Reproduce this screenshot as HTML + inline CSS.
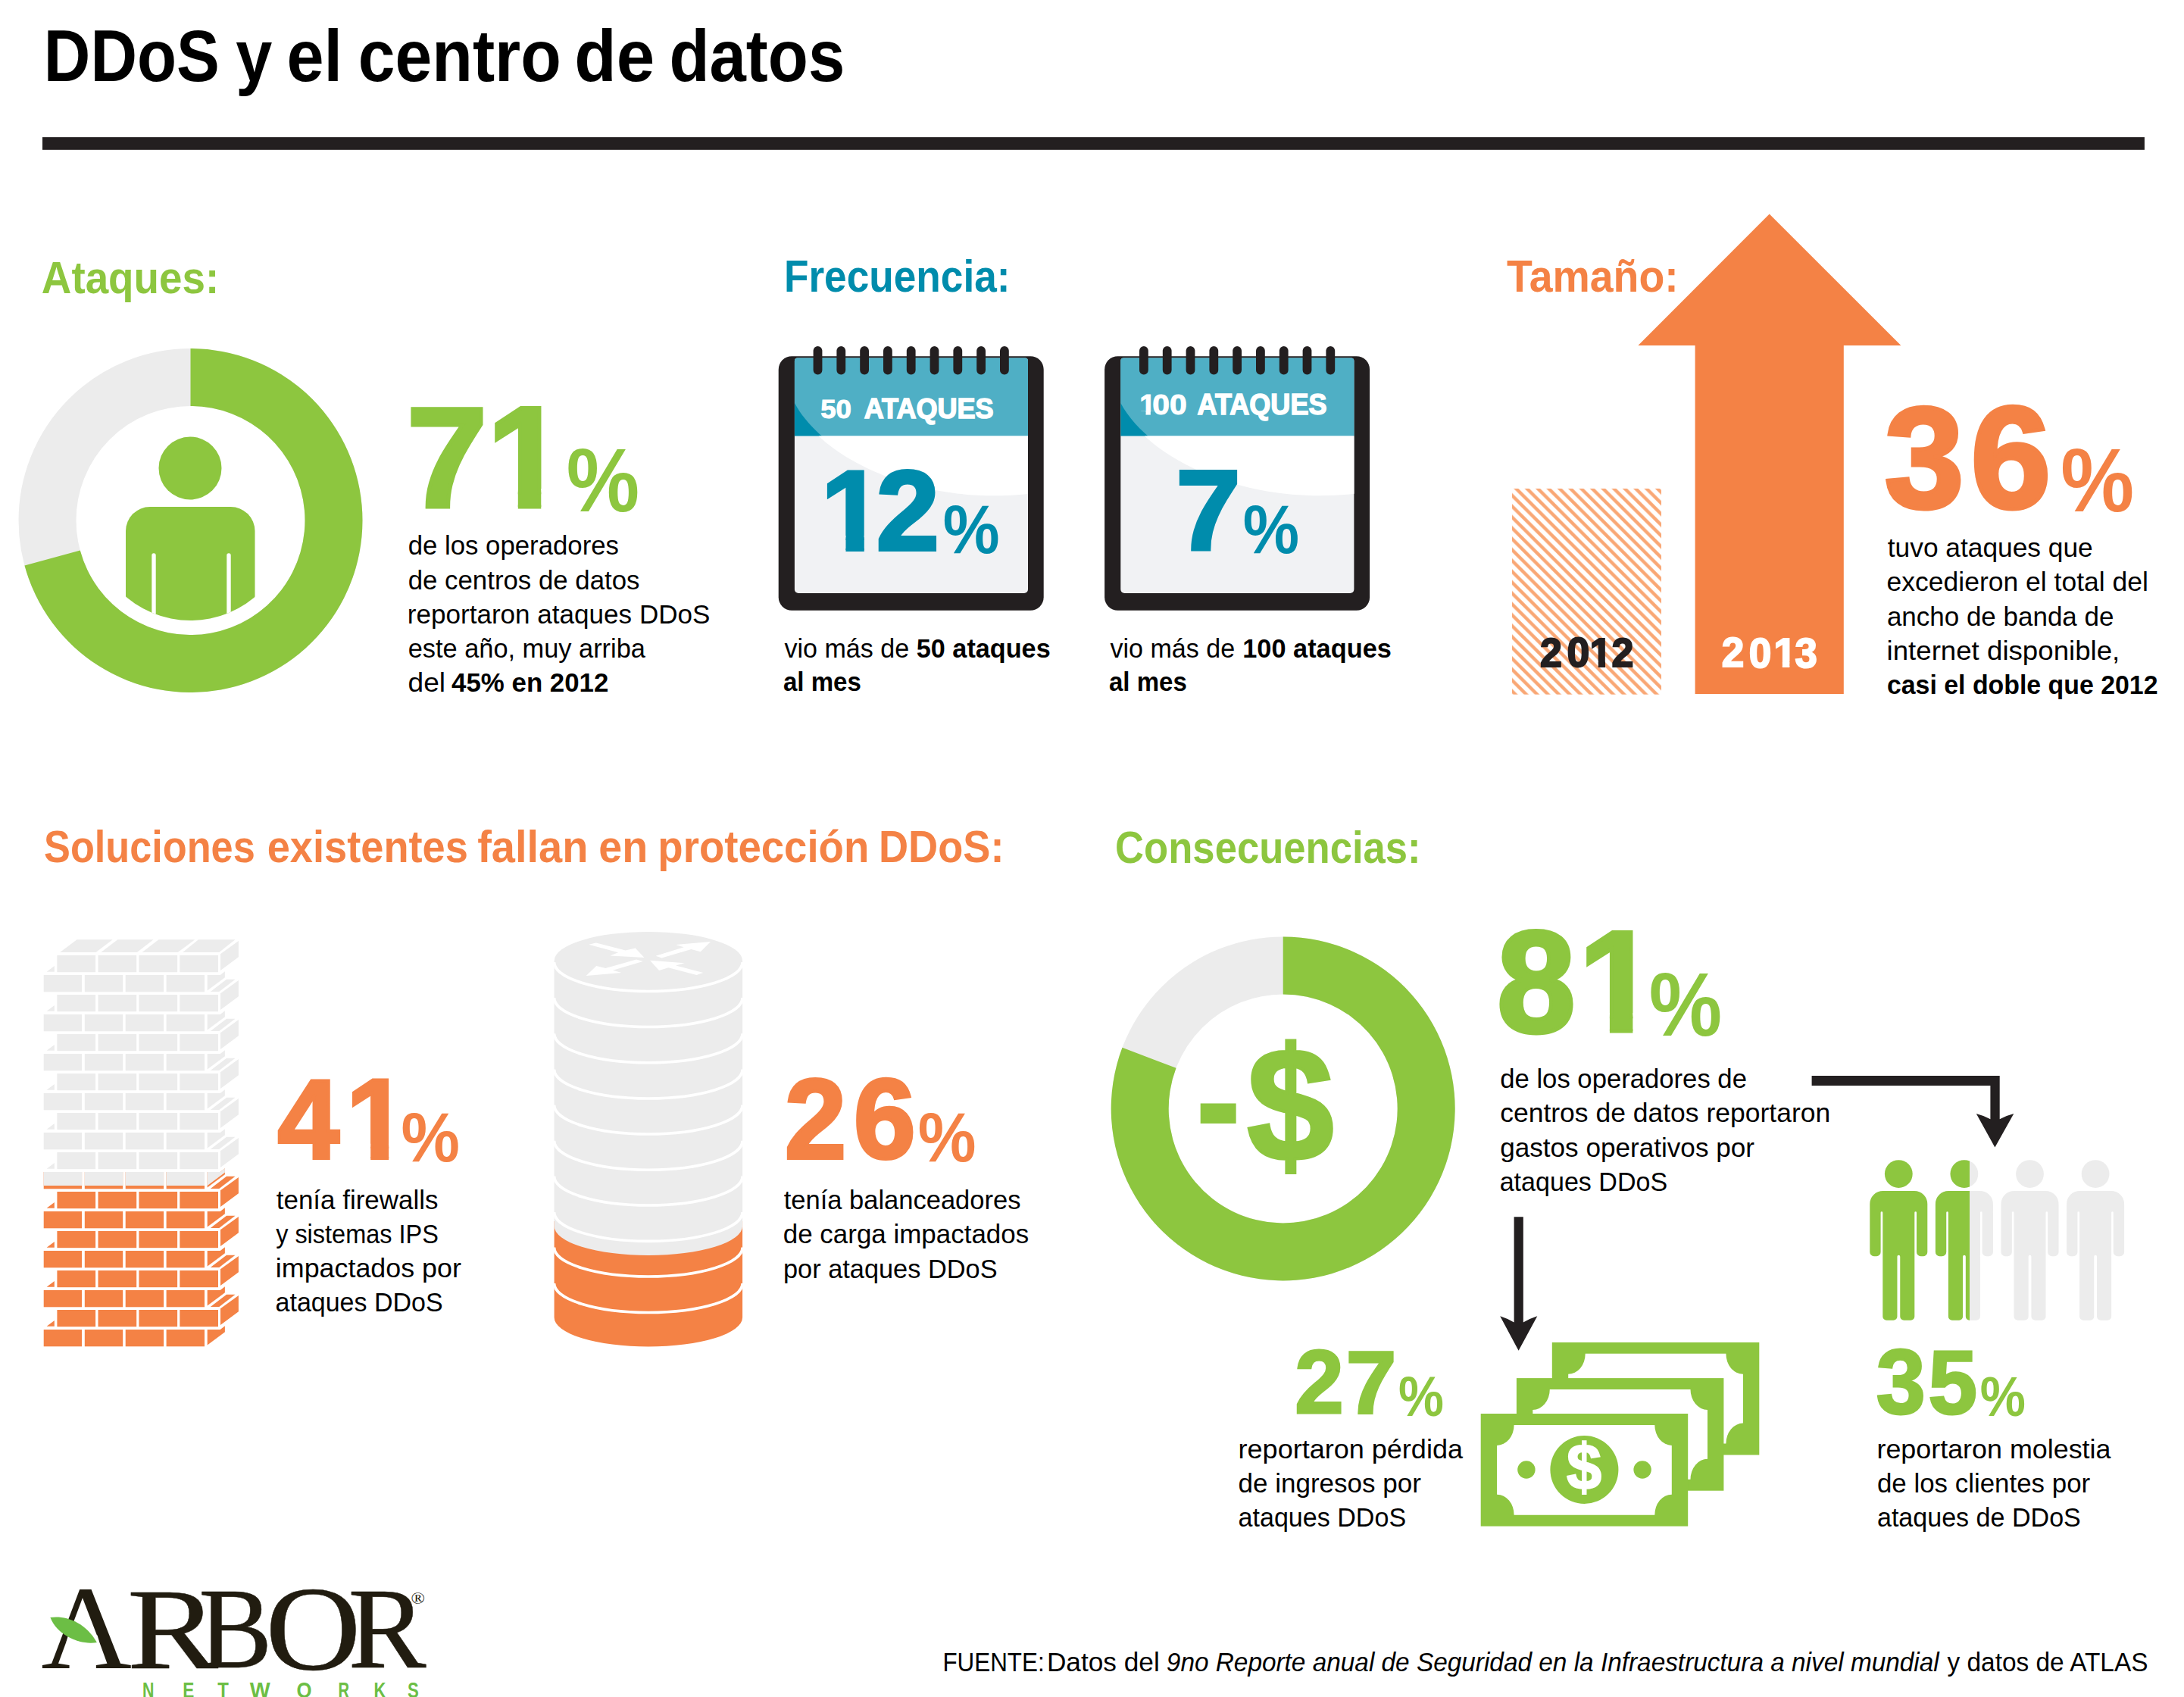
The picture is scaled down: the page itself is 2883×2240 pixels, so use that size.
<!DOCTYPE html>
<html lang="es"><head><meta charset="utf-8"><title>DDoS y el centro de datos</title>
<style>
html,body{margin:0;padding:0;background:#fff}
body{width:2883px;height:2240px;overflow:hidden;font-family:"Liberation Sans",sans-serif}
svg{display:block}
text{white-space:pre}
</style></head><body>
<svg width="2883" height="2240" viewBox="0 0 2883 2240">
<text transform="matrix(0.8878 0 0 1 57.86 107.30)" font-family='"Liberation Sans", sans-serif' font-size="96" font-weight="bold" font-style="normal" fill="#000">DDoS</text>
<text transform="matrix(0.9008 0 0 1 311.14 107.30)" font-family='"Liberation Sans", sans-serif' font-size="96" font-weight="bold" font-style="normal" fill="#000">y</text>
<text transform="matrix(0.9195 0 0 1 378.47 107.30)" font-family='"Liberation Sans", sans-serif' font-size="96" font-weight="bold" font-style="normal" fill="#000">el</text>
<text transform="matrix(0.9135 0 0 1 472.79 107.30)" font-family='"Liberation Sans", sans-serif' font-size="96" font-weight="bold" font-style="normal" fill="#000">centro</text>
<text transform="matrix(0.9451 0 0 1 758.27 107.30)" font-family='"Liberation Sans", sans-serif' font-size="96" font-weight="bold" font-style="normal" fill="#000">de</text>
<text transform="matrix(0.9055 0 0 1 883.42 107.30)" font-family='"Liberation Sans", sans-serif' font-size="96" font-weight="bold" font-style="normal" fill="#000">datos</text>
<rect x="56" y="181.1" width="2774.9" height="16.7" fill="#231f20"/>
<text transform="matrix(0.9348 0 0 1 54.83 386.60)" font-family='"Liberation Sans", sans-serif' font-size="58.6" font-weight="bold" font-style="normal" fill="#8dc63f">Ataques:</text>
<text transform="matrix(0.9077 0 0 1 1034.94 384.70)" font-family='"Liberation Sans", sans-serif' font-size="58.6" font-weight="bold" font-style="normal" fill="#008cac">Frecuencia:</text>
<text transform="matrix(0.9460 0 0 1 1988.95 384.50)" font-family='"Liberation Sans", sans-serif' font-size="58.6" font-weight="bold" font-style="normal" fill="#f48245">Tamaño:</text>
<text transform="matrix(0.8947 0 0 1 58.03 1138.40)" font-family='"Liberation Sans", sans-serif' font-size="58.4" font-weight="bold" font-style="normal" fill="#f48245">Soluciones</text>
<text transform="matrix(0.9284 0 0 1 352.73 1138.40)" font-family='"Liberation Sans", sans-serif' font-size="58.4" font-weight="bold" font-style="normal" fill="#f48245">existentes</text>
<text transform="matrix(0.9585 0 0 1 630.16 1138.40)" font-family='"Liberation Sans", sans-serif' font-size="58.4" font-weight="bold" font-style="normal" fill="#f48245">fallan</text>
<text transform="matrix(0.9534 0 0 1 790.17 1138.40)" font-family='"Liberation Sans", sans-serif' font-size="58.4" font-weight="bold" font-style="normal" fill="#f48245">en</text>
<text transform="matrix(0.9343 0 0 1 868.35 1138.40)" font-family='"Liberation Sans", sans-serif' font-size="58.4" font-weight="bold" font-style="normal" fill="#f48245">protección</text>
<text transform="matrix(0.9279 0 0 1 1159.98 1138.40)" font-family='"Liberation Sans", sans-serif' font-size="58.4" font-weight="bold" font-style="normal" fill="#f48245">DDoS:</text>
<text transform="matrix(0.9012 0 0 1 1472.09 1138.50)" font-family='"Liberation Sans", sans-serif' font-size="58.4" font-weight="bold" font-style="normal" fill="#8dc63f">Consecuencias:</text>
<circle cx="251.5" cy="687" r="189" fill="none" stroke="#ececec" stroke-width="76"/>
<path d="M251.50,460.00 A227,227 0 1 1 32.44,746.52 L105.78,726.59 A151,151 0 1 0 251.50,536.00 Z" fill="#8dc63f"/>
<clipPath id="c1"><circle cx="251.5" cy="687" r="132"/></clipPath>
<circle cx="251" cy="618" r="41.5" fill="#8dc63f"/>
<g clip-path="url(#c1)"><path d="M166,830 V701 A32,32 0 0 1 198,669 H304.5 A32,32 0 0 1 336.5,701 V830 Z" fill="#8dc63f"/><path d="M200.3,830 V733 A2.7,2.7 0 0 1 205.7,733 V830 Z M299.3,830 V733 A2.7,2.7 0 0 1 304.7,733 V830 Z" fill="#fff"/></g>
<g><text transform="matrix(1.9158 0 0 1.8841 536.64 669.30)" font-family='"Liberation Sans", sans-serif' font-size="100" font-weight="bold" font-style="normal" fill="#8dc63f" stroke="#8dc63f" stroke-width="2.63" stroke-linejoin="miter">7</text><clipPath id="k1"><polygon points="-50,-130 150,-130 150,-12.73 38.39,-12.73 38.39,30 22.01,30 22.01,-12.73 -50,-12.73"/></clipPath><text clip-path="url(#k1)" transform="matrix(1.8597 0 0 1.8895 642.88 669.30)" font-family='"Liberation Sans", sans-serif' font-size="100" font-weight="bold" fill="#8dc63f" stroke="#8dc63f" stroke-width="2.67" stroke-linejoin="miter">1</text><text transform="matrix(1.0845 0 0 1.1858 747.69 675.31)" font-family='"Liberation Sans", sans-serif' font-size="100" font-weight="bold" font-style="normal" fill="#8dc63f">%</text></g>
<text transform="matrix(1.0048 0 0 1 538.71 732.30)" font-family='"Liberation Sans", sans-serif' font-size="34.6" font-weight="normal" font-style="normal" fill="#000">de los operadores</text>
<text transform="matrix(1.0064 0 0 1 538.71 777.60)" font-family='"Liberation Sans", sans-serif' font-size="34.6" font-weight="normal" font-style="normal" fill="#000">de centros de datos</text>
<text transform="matrix(1.0139 0 0 1 537.82 822.60)" font-family='"Liberation Sans", sans-serif' font-size="34.6" font-weight="normal" font-style="normal" fill="#000">reportaron ataques DDoS</text>
<text transform="matrix(0.9933 0 0 1 538.73 867.90)" font-family='"Liberation Sans", sans-serif' font-size="34.6" font-weight="normal" font-style="normal" fill="#000">este año, muy arriba</text>
<text transform="matrix(1.0711 0 0 1 538.62 912.60)" font-family='"Liberation Sans", sans-serif' font-size="34.6" font-weight="normal" font-style="normal" fill="#000">del</text>
<text transform="matrix(1.0075 0 0 1 596.08 912.60)" font-family='"Liberation Sans", sans-serif' font-size="34.6" font-weight="bold" font-style="normal" fill="#000">45% en 2012</text>
<rect x="1027.7" y="470.2" width="350" height="335.6" rx="17.5" fill="#231f20"/>
<clipPath id="pg0"><path d="M1048.9,476.5 a4,4 0 0 1 4,-4 H1353 a4,4 0 0 1 4,4 V778 a5,5 0 0 1 -5,5 H1053.9 a5,5 0 0 1 -5,-5 Z"/></clipPath>
<g clip-path="url(#pg0)">
<rect x="1040" y="470" width="330" height="320" fill="#f1f2f4"/>
<rect x="1040" y="470" width="330" height="105.5" fill="#008cac"/>
<path d="M1048.9,531.9 C1087.8,605.0 1222.1,666.3 1358.9,651.7 V463.6 H1048.9 Z" fill="#fff" fill-opacity="0.31"/>
<path d="M1080.7,575.5 C1120.8,614.4 1222.1,666.3 1358.9,651.7 V575.5 Z" fill="#fff"/>
</g>
<rect x="1073.6" y="456.9" width="11.8" height="37.6" rx="5.9" fill="#231f20"/>
<rect x="1104.4" y="456.9" width="11.8" height="37.6" rx="5.9" fill="#231f20"/>
<rect x="1135.2" y="456.9" width="11.8" height="37.6" rx="5.9" fill="#231f20"/>
<rect x="1166.0" y="456.9" width="11.8" height="37.6" rx="5.9" fill="#231f20"/>
<rect x="1196.8" y="456.9" width="11.8" height="37.6" rx="5.9" fill="#231f20"/>
<rect x="1227.6" y="456.9" width="11.8" height="37.6" rx="5.9" fill="#231f20"/>
<rect x="1258.4" y="456.9" width="11.8" height="37.6" rx="5.9" fill="#231f20"/>
<rect x="1289.2" y="456.9" width="11.8" height="37.6" rx="5.9" fill="#231f20"/>
<rect x="1320.0" y="456.9" width="11.8" height="37.6" rx="5.9" fill="#231f20"/>
<text transform="matrix(0.3673 0 0 0.3443 1083.20 551.80)" font-family='"Liberation Sans", sans-serif' font-size="100" font-weight="bold" font-style="normal" fill="#fff" stroke="#fff" stroke-width="2.81" stroke-linejoin="miter">50</text>
<text transform="matrix(0.3609 0 0 0.3771 1140.65 552.45)" font-family='"Liberation Sans", sans-serif' font-size="100" font-weight="bold" font-style="normal" fill="#fff" stroke="#fff" stroke-width="4.06" stroke-linejoin="miter">ATAQUES</text>
<g><clipPath id="k2"><polygon points="-50,-130 150,-130 150,-12.74 38.40,-12.74 38.40,30 22.00,30 22.00,-12.74 -50,-12.74"/></clipPath><text clip-path="url(#k2)" transform="matrix(1.4825 0 0 1.4971 1083.86 726.00)" font-family='"Liberation Sans", sans-serif' font-size="100" font-weight="bold" fill="#008cac" stroke="#008cac" stroke-width="2.68" stroke-linejoin="miter">1</text><text transform="matrix(1.5021 0 0 1.5000 1156.44 726.00)" font-family='"Liberation Sans", sans-serif' font-size="100" font-weight="bold" font-style="normal" fill="#008cac" stroke="#008cac" stroke-width="2.66" stroke-linejoin="miter">2</text><text transform="matrix(0.8417 0 0 0.9007 1244.80 730.10)" font-family='"Liberation Sans", sans-serif' font-size="100" font-weight="bold" font-style="normal" fill="#008cac">%</text></g>
<rect x="1458.1" y="470.2" width="350" height="335.6" rx="17.5" fill="#231f20"/>
<clipPath id="pg430"><path d="M1479.3000000000002,476.5 a4,4 0 0 1 4,-4 H1783.4 a4,4 0 0 1 4,4 V778 a5,5 0 0 1 -5,5 H1484.3000000000002 a5,5 0 0 1 -5,-5 Z"/></clipPath>
<g clip-path="url(#pg430)">
<rect x="1470.4" y="470" width="330" height="320" fill="#f1f2f4"/>
<rect x="1470.4" y="470" width="330" height="105.5" fill="#008cac"/>
<path d="M1479.3,531.9 C1518.2,605.0 1652.5,666.3 1789.3,651.7 V463.6 H1479.3 Z" fill="#fff" fill-opacity="0.31"/>
<path d="M1511.1,575.5 C1551.2,614.4 1652.5,666.3 1789.3,651.7 V575.5 Z" fill="#fff"/>
</g>
<rect x="1504.0" y="456.9" width="11.8" height="37.6" rx="5.9" fill="#231f20"/>
<rect x="1534.8" y="456.9" width="11.8" height="37.6" rx="5.9" fill="#231f20"/>
<rect x="1565.6" y="456.9" width="11.8" height="37.6" rx="5.9" fill="#231f20"/>
<rect x="1596.4" y="456.9" width="11.8" height="37.6" rx="5.9" fill="#231f20"/>
<rect x="1627.2" y="456.9" width="11.8" height="37.6" rx="5.9" fill="#231f20"/>
<rect x="1658.0" y="456.9" width="11.8" height="37.6" rx="5.9" fill="#231f20"/>
<rect x="1688.8" y="456.9" width="11.8" height="37.6" rx="5.9" fill="#231f20"/>
<rect x="1719.6" y="456.9" width="11.8" height="37.6" rx="5.9" fill="#231f20"/>
<rect x="1750.4" y="456.9" width="11.8" height="37.6" rx="5.9" fill="#231f20"/>
<g><clipPath id="k3"><polygon points="-50,-130 150,-130 150,-12.75 38.41,-12.75 38.41,30 21.99,30 21.99,-12.75 -50,-12.75"/></clipPath><text clip-path="url(#k3)" transform="matrix(0.3805 0 0 0.3605 1504.20 547.30)" font-family='"Liberation Sans", sans-serif' font-size="100" font-weight="bold" fill="#fff" stroke="#fff" stroke-width="2.70" stroke-linejoin="miter">1</text><text transform="matrix(0.4087 0 0 0.3606 1521.27 547.34)" font-family='"Liberation Sans", sans-serif' font-size="100" font-weight="bold" font-style="normal" fill="#fff" stroke="#fff" stroke-width="2.60" stroke-linejoin="miter">00</text></g>
<text transform="matrix(0.3607 0 0 0.3886 1580.55 547.05)" font-family='"Liberation Sans", sans-serif' font-size="100" font-weight="bold" font-style="normal" fill="#fff" stroke="#fff" stroke-width="4.00" stroke-linejoin="miter">ATAQUES</text>
<g><text transform="matrix(1.5389 0 0 1.4942 1552.14 725.60)" font-family='"Liberation Sans", sans-serif' font-size="100" font-weight="bold" font-style="normal" fill="#008cac" stroke="#008cac" stroke-width="2.64" stroke-linejoin="miter">7</text><text transform="matrix(0.8357 0 0 0.9007 1640.71 730.10)" font-family='"Liberation Sans", sans-serif' font-size="100" font-weight="bold" font-style="normal" fill="#008cac">%</text></g>
<text transform="matrix(0.9845 0 0 1 1035.43 867.50)" font-family='"Liberation Sans", sans-serif' font-size="34.6" font-weight="normal" font-style="normal" fill="#000">vio más de</text>
<text transform="matrix(0.9895 0 0 1 1209.77 867.50)" font-family='"Liberation Sans", sans-serif' font-size="34.6" font-weight="bold" font-style="normal" fill="#000">50 ataques</text>
<text transform="matrix(0.9545 0 0 1 1034.01 912.10)" font-family='"Liberation Sans", sans-serif' font-size="34.6" font-weight="bold" font-style="normal" fill="#000">al mes</text>
<text transform="matrix(0.9845 0 0 1 1465.43 867.50)" font-family='"Liberation Sans", sans-serif' font-size="34.6" font-weight="normal" font-style="normal" fill="#000">vio más de</text>
<text transform="matrix(0.9927 0 0 1 1640.24 867.50)" font-family='"Liberation Sans", sans-serif' font-size="34.6" font-weight="bold" font-style="normal" fill="#000">100 ataques</text>
<text transform="matrix(0.9545 0 0 1 1464.01 912.10)" font-family='"Liberation Sans", sans-serif' font-size="34.6" font-weight="bold" font-style="normal" fill="#000">al mes</text>
<pattern id="hatch" width="14.35" height="14.35" patternUnits="userSpaceOnUse" patternTransform="translate(2001.35 644.9)"><path d="M-3.5875,-3.5875 L17.9375,17.9375 M-3.5875,10.7625 L3.5875,17.9375 M10.7625,-3.5875 L17.9375,3.5875" stroke="#f9a775" stroke-width="4.4"/></pattern>
<rect x="1996" y="644.9" width="197" height="271.8" fill="url(#hatch)"/>
<polygon points="2335.7,282.4 2509.4,456.0 2433.8,456.0 2433.8,916.0 2237.6,916.0 2237.6,456.0 2162.4,456.0" fill="#f48245"/>
<g><text transform="matrix(0.5208 0 0 0.5429 2033.08 879.90)" font-family='"Liberation Sans", sans-serif' font-size="100" font-weight="bold" font-style="normal" fill="#231f20" stroke="#231f20" stroke-width="3.76" stroke-linejoin="miter">2</text><text transform="matrix(0.5368 0 0 0.5479 2068.45 880.25)" font-family='"Liberation Sans", sans-serif' font-size="100" font-weight="bold" font-style="normal" fill="#231f20" stroke="#231f20" stroke-width="3.69" stroke-linejoin="miter">0</text><clipPath id="k4"><polygon points="-50,-130 150,-130 150,-13.29 38.95,-13.29 38.95,30 21.45,30 21.45,-13.29 -50,-13.29"/></clipPath><text clip-path="url(#k4)" transform="matrix(0.5228 0 0 0.5363 2098.62 879.90)" font-family='"Liberation Sans", sans-serif' font-size="100" font-weight="bold" fill="#231f20" stroke="#231f20" stroke-width="3.78" stroke-linejoin="miter">1</text><text transform="matrix(0.5208 0 0 0.5429 2127.38 879.90)" font-family='"Liberation Sans", sans-serif' font-size="100" font-weight="bold" font-style="normal" fill="#231f20" stroke="#231f20" stroke-width="3.76" stroke-linejoin="miter">2</text></g>
<g><text transform="matrix(0.5312 0 0 0.5471 2272.84 880.20)" font-family='"Liberation Sans", sans-serif' font-size="100" font-weight="bold" font-style="normal" fill="#fff" stroke="#fff" stroke-width="3.71" stroke-linejoin="miter">2</text><text transform="matrix(0.5326 0 0 0.5535 2308.67 880.65)" font-family='"Liberation Sans", sans-serif' font-size="100" font-weight="bold" font-style="normal" fill="#fff" stroke="#fff" stroke-width="3.68" stroke-linejoin="miter">0</text><clipPath id="k5"><polygon points="-50,-130 150,-130 150,-13.25 38.91,-13.25 38.91,30 21.49,30 21.49,-13.25 -50,-13.25"/></clipPath><text clip-path="url(#k5)" transform="matrix(0.5427 0 0 0.5407 2341.19 880.20)" font-family='"Liberation Sans", sans-serif' font-size="100" font-weight="bold" fill="#fff" stroke="#fff" stroke-width="3.69" stroke-linejoin="miter">1</text><text transform="matrix(0.5273 0 0 0.5549 2369.58 880.75)" font-family='"Liberation Sans", sans-serif' font-size="100" font-weight="bold" font-style="normal" fill="#fff" stroke="#fff" stroke-width="3.70" stroke-linejoin="miter">3</text></g>
<g><text transform="matrix(1.8909 0 0 1.9028 2487.57 669.60)" font-family='"Liberation Sans", sans-serif' font-size="100" font-weight="bold" font-style="normal" fill="#f48245" stroke="#f48245" stroke-width="2.64" stroke-linejoin="miter">3</text><text transform="matrix(1.9113 0 0 1.9028 2601.31 669.60)" font-family='"Liberation Sans", sans-serif' font-size="100" font-weight="bold" font-style="normal" fill="#f48245" stroke="#f48245" stroke-width="2.62" stroke-linejoin="miter">6</text><text transform="matrix(1.0893 0 0 1.1816 2720.28 675.32)" font-family='"Liberation Sans", sans-serif' font-size="100" font-weight="bold" font-style="normal" fill="#f48245">%</text></g>
<text transform="matrix(1.0212 0 0 1 2491.77 734.80)" font-family='"Liberation Sans", sans-serif' font-size="34.6" font-weight="normal" font-style="normal" fill="#000">tuvo ataques que</text>
<text transform="matrix(1.0263 0 0 1 2490.58 780.20)" font-family='"Liberation Sans", sans-serif' font-size="34.6" font-weight="normal" font-style="normal" fill="#000">excedieron el total del</text>
<text transform="matrix(1.0112 0 0 1 2490.90 825.50)" font-family='"Liberation Sans", sans-serif' font-size="34.6" font-weight="normal" font-style="normal" fill="#000">ancho de banda de</text>
<text transform="matrix(1.0600 0 0 1 2490.52 870.70)" font-family='"Liberation Sans", sans-serif' font-size="34.6" font-weight="normal" font-style="normal" fill="#000">internet disponible,</text>
<text transform="matrix(0.9790 0 0 1 2490.95 916.10)" font-family='"Liberation Sans", sans-serif' font-size="34.6" font-weight="bold" font-style="normal" fill="#000">casi el doble que 2012</text>
<g fill="#f48245"><rect x="57.7" y="1547.0" width="50.4" height="22.3"/><rect x="111.8" y="1547.0" width="50.4" height="22.3"/><rect x="165.7" y="1547.0" width="50.4" height="22.3"/><rect x="219.6" y="1547.0" width="50.4" height="22.3"/><polygon points="273.7,1547.0 290.7,1547.0 296.9,1542.2 296.9,1550.2 273.7,1567.5"/><rect x="75.4" y="1573.0" width="50.7" height="22.2"/><rect x="129.5" y="1573.0" width="50.7" height="22.2"/><rect x="183.4" y="1573.0" width="50.7" height="22.2"/><rect x="237.3" y="1573.0" width="50.7" height="22.2"/><rect x="57.7" y="1599.0" width="50.4" height="22.3"/><rect x="111.8" y="1599.0" width="50.4" height="22.3"/><rect x="165.7" y="1599.0" width="50.4" height="22.3"/><rect x="219.6" y="1599.0" width="50.4" height="22.3"/><polygon points="273.7,1599.0 290.7,1599.0 296.9,1594.2 296.9,1602.2 273.7,1619.5"/><polygon points="291.0,1571.2 314.9,1554.1 314.9,1575.3 291.0,1593.0"/><polygon points="61.6,1594.7 71.8,1587.1 71.8,1594.7"/><polygon points="277.8,1568.9 289.3,1568.9 310.5,1552.8 299.0,1552.8"/><rect x="75.4" y="1625.0" width="50.7" height="22.2"/><rect x="129.5" y="1625.0" width="50.7" height="22.2"/><rect x="183.4" y="1625.0" width="50.7" height="22.2"/><rect x="237.3" y="1625.0" width="50.7" height="22.2"/><rect x="57.7" y="1651.0" width="50.4" height="22.3"/><rect x="111.8" y="1651.0" width="50.4" height="22.3"/><rect x="165.7" y="1651.0" width="50.4" height="22.3"/><rect x="219.6" y="1651.0" width="50.4" height="22.3"/><polygon points="273.7,1651.0 290.7,1651.0 296.9,1646.2 296.9,1654.2 273.7,1671.5"/><polygon points="291.0,1623.2 314.9,1606.1 314.9,1627.3 291.0,1645.0"/><polygon points="61.6,1646.7 71.8,1639.1 71.8,1646.7"/><polygon points="277.8,1620.9 289.3,1620.9 310.5,1604.8 299.0,1604.8"/><rect x="75.4" y="1677.0" width="50.7" height="22.2"/><rect x="129.5" y="1677.0" width="50.7" height="22.2"/><rect x="183.4" y="1677.0" width="50.7" height="22.2"/><rect x="237.3" y="1677.0" width="50.7" height="22.2"/><rect x="57.7" y="1703.0" width="50.4" height="22.3"/><rect x="111.8" y="1703.0" width="50.4" height="22.3"/><rect x="165.7" y="1703.0" width="50.4" height="22.3"/><rect x="219.6" y="1703.0" width="50.4" height="22.3"/><polygon points="273.7,1703.0 290.7,1703.0 296.9,1698.2 296.9,1706.2 273.7,1723.5"/><polygon points="291.0,1675.2 314.9,1658.1 314.9,1679.3 291.0,1697.0"/><polygon points="61.6,1698.7 71.8,1691.1 71.8,1698.7"/><polygon points="277.8,1672.9 289.3,1672.9 310.5,1656.8 299.0,1656.8"/><rect x="75.4" y="1729.0" width="50.7" height="22.2"/><rect x="129.5" y="1729.0" width="50.7" height="22.2"/><rect x="183.4" y="1729.0" width="50.7" height="22.2"/><rect x="237.3" y="1729.0" width="50.7" height="22.2"/><rect x="57.7" y="1755.0" width="50.4" height="22.3"/><rect x="111.8" y="1755.0" width="50.4" height="22.3"/><rect x="165.7" y="1755.0" width="50.4" height="22.3"/><rect x="219.6" y="1755.0" width="50.4" height="22.3"/><polygon points="273.7,1755.0 290.7,1755.0 296.9,1750.2 296.9,1758.2 273.7,1775.5"/><polygon points="291.0,1727.2 314.9,1710.1 314.9,1731.3 291.0,1749.0"/><polygon points="61.6,1750.7 71.8,1743.1 71.8,1750.7"/><polygon points="277.8,1724.9 289.3,1724.9 310.5,1708.8 299.0,1708.8"/></g>
<clipPath id="wc"><polygon points="0,1200 400,1200 400,1470.5 273.7,1565 0,1565"/></clipPath>
<g fill="#ececec" clip-path="url(#wc)"><rect x="75.4" y="1261.0" width="50.7" height="22.2"/><rect x="129.5" y="1261.0" width="50.7" height="22.2"/><rect x="183.4" y="1261.0" width="50.7" height="22.2"/><rect x="237.3" y="1261.0" width="50.7" height="22.2"/><rect x="57.7" y="1287.0" width="50.4" height="22.3"/><rect x="111.8" y="1287.0" width="50.4" height="22.3"/><rect x="165.7" y="1287.0" width="50.4" height="22.3"/><rect x="219.6" y="1287.0" width="50.4" height="22.3"/><polygon points="273.7,1287.0 290.7,1287.0 296.9,1282.2 296.9,1290.2 273.7,1307.5"/><polygon points="291.0,1259.2 314.9,1242.1 314.9,1263.3 291.0,1281.0"/><polygon points="61.6,1282.7 71.8,1275.1 71.8,1282.7"/><polygon points="79.2,1257.1 126.6,1257.1 148.7,1240.3 101.5,1240.3"/><polygon points="133.3,1257.1 180.9,1257.1 202.6,1240.3 155.3,1240.3"/><polygon points="187.6,1257.1 234.8,1257.1 257.1,1240.3 209.4,1240.3"/><polygon points="241.2,1257.1 289.3,1257.1 310.5,1240.3 261.9,1240.3"/><rect x="75.4" y="1313.0" width="50.7" height="22.2"/><rect x="129.5" y="1313.0" width="50.7" height="22.2"/><rect x="183.4" y="1313.0" width="50.7" height="22.2"/><rect x="237.3" y="1313.0" width="50.7" height="22.2"/><rect x="57.7" y="1339.0" width="50.4" height="22.3"/><rect x="111.8" y="1339.0" width="50.4" height="22.3"/><rect x="165.7" y="1339.0" width="50.4" height="22.3"/><rect x="219.6" y="1339.0" width="50.4" height="22.3"/><polygon points="273.7,1339.0 290.7,1339.0 296.9,1334.2 296.9,1342.2 273.7,1359.5"/><polygon points="291.0,1311.2 314.9,1294.1 314.9,1315.3 291.0,1333.0"/><polygon points="61.6,1334.7 71.8,1327.1 71.8,1334.7"/><polygon points="277.8,1308.9 289.3,1308.9 310.5,1292.8 299.0,1292.8"/><rect x="75.4" y="1365.0" width="50.7" height="22.2"/><rect x="129.5" y="1365.0" width="50.7" height="22.2"/><rect x="183.4" y="1365.0" width="50.7" height="22.2"/><rect x="237.3" y="1365.0" width="50.7" height="22.2"/><rect x="57.7" y="1391.0" width="50.4" height="22.3"/><rect x="111.8" y="1391.0" width="50.4" height="22.3"/><rect x="165.7" y="1391.0" width="50.4" height="22.3"/><rect x="219.6" y="1391.0" width="50.4" height="22.3"/><polygon points="273.7,1391.0 290.7,1391.0 296.9,1386.2 296.9,1394.2 273.7,1411.5"/><polygon points="291.0,1363.2 314.9,1346.1 314.9,1367.3 291.0,1385.0"/><polygon points="61.6,1386.7 71.8,1379.1 71.8,1386.7"/><polygon points="277.8,1360.9 289.3,1360.9 310.5,1344.8 299.0,1344.8"/><rect x="75.4" y="1417.0" width="50.7" height="22.2"/><rect x="129.5" y="1417.0" width="50.7" height="22.2"/><rect x="183.4" y="1417.0" width="50.7" height="22.2"/><rect x="237.3" y="1417.0" width="50.7" height="22.2"/><rect x="57.7" y="1443.0" width="50.4" height="22.3"/><rect x="111.8" y="1443.0" width="50.4" height="22.3"/><rect x="165.7" y="1443.0" width="50.4" height="22.3"/><rect x="219.6" y="1443.0" width="50.4" height="22.3"/><polygon points="273.7,1443.0 290.7,1443.0 296.9,1438.2 296.9,1446.2 273.7,1463.5"/><polygon points="291.0,1415.2 314.9,1398.1 314.9,1419.3 291.0,1437.0"/><polygon points="61.6,1438.7 71.8,1431.1 71.8,1438.7"/><polygon points="277.8,1412.9 289.3,1412.9 310.5,1396.8 299.0,1396.8"/><rect x="75.4" y="1469.0" width="50.7" height="22.2"/><rect x="129.5" y="1469.0" width="50.7" height="22.2"/><rect x="183.4" y="1469.0" width="50.7" height="22.2"/><rect x="237.3" y="1469.0" width="50.7" height="22.2"/><rect x="57.7" y="1495.0" width="50.4" height="22.3"/><rect x="111.8" y="1495.0" width="50.4" height="22.3"/><rect x="165.7" y="1495.0" width="50.4" height="22.3"/><rect x="219.6" y="1495.0" width="50.4" height="22.3"/><polygon points="273.7,1495.0 290.7,1495.0 296.9,1490.2 296.9,1498.2 273.7,1515.5"/><polygon points="291.0,1467.2 314.9,1450.1 314.9,1471.3 291.0,1489.0"/><polygon points="61.6,1490.7 71.8,1483.1 71.8,1490.7"/><polygon points="277.8,1464.9 289.3,1464.9 310.5,1448.8 299.0,1448.8"/><rect x="75.4" y="1521.0" width="50.7" height="22.2"/><rect x="129.5" y="1521.0" width="50.7" height="22.2"/><rect x="183.4" y="1521.0" width="50.7" height="22.2"/><rect x="237.3" y="1521.0" width="50.7" height="22.2"/><rect x="57.7" y="1547.0" width="50.4" height="22.3"/><rect x="111.8" y="1547.0" width="50.4" height="22.3"/><rect x="165.7" y="1547.0" width="50.4" height="22.3"/><rect x="219.6" y="1547.0" width="50.4" height="22.3"/><polygon points="273.7,1547.0 290.7,1547.0 296.9,1542.2 296.9,1550.2 273.7,1567.5"/><polygon points="291.0,1519.2 314.9,1502.1 314.9,1523.3 291.0,1541.0"/><polygon points="61.6,1542.7 71.8,1535.1 71.8,1542.7"/><polygon points="277.8,1516.9 289.3,1516.9 310.5,1500.8 299.0,1500.8"/></g>
<g><text transform="matrix(1.4654 0 0 1.4899 366.60 1528.80)" font-family='"Liberation Sans", sans-serif' font-size="100" font-weight="bold" font-style="normal" fill="#f48245" stroke="#f48245" stroke-width="2.71" stroke-linejoin="miter">4</text><clipPath id="k6"><polygon points="-50,-130 150,-130 150,-12.75 38.41,-12.75 38.41,30 21.99,30 21.99,-12.75 -50,-12.75"/></clipPath><text clip-path="url(#k6)" transform="matrix(1.4593 0 0 1.4942 457.12 1528.80)" font-family='"Liberation Sans", sans-serif' font-size="100" font-weight="bold" fill="#f48245" stroke="#f48245" stroke-width="2.71" stroke-linejoin="miter">1</text><text transform="matrix(0.8714 0 0 0.9262 529.42 1533.37)" font-family='"Liberation Sans", sans-serif' font-size="100" font-weight="bold" font-style="normal" fill="#f48245">%</text></g>
<text transform="matrix(1.0103 0 0 1 364.78 1596.10)" font-family='"Liberation Sans", sans-serif' font-size="34.6" font-weight="normal" font-style="normal" fill="#000">tenía firewalls</text>
<text transform="matrix(0.9384 0 0 1 364.14 1641.00)" font-family='"Liberation Sans", sans-serif' font-size="34.6" font-weight="normal" font-style="normal" fill="#000">y sistemas IPS</text>
<text transform="matrix(1.0358 0 0 1 363.87 1686.40)" font-family='"Liberation Sans", sans-serif' font-size="34.6" font-weight="normal" font-style="normal" fill="#000">impactados por</text>
<text transform="matrix(0.9826 0 0 1 363.54 1731.30)" font-family='"Liberation Sans", sans-serif' font-size="34.6" font-weight="normal" font-style="normal" fill="#000">ataques DDoS</text>
<path d="M731.6,1612 V1739.1 A124.25,38.4 0 0 0 980.1,1739.1 V1612 Z" fill="#f48245"/>
<path d="M731.6,1646.6 A124.25,38.4 0 0 0 980.1,1646.6" fill="none" stroke="#fff" stroke-width="3.6"/>
<path d="M731.6,1694.1 A124.25,38.4 0 0 0 980.1,1694.1" fill="none" stroke="#fff" stroke-width="3.6"/>
<path d="M731.6,1268.3 A124.25,38.4 0 0 1 980.1,1268.3 V1618.6 A124.25,38.4 0 0 1 731.6,1618.6 Z" fill="#ececec"/>
<path d="M731.6,1270.1 A124.25,38.4 0 0 0 980.1,1270.1" fill="none" stroke="#fff" stroke-width="3.6"/>
<path d="M731.6,1317.1 A124.25,38.4 0 0 0 980.1,1317.1" fill="none" stroke="#fff" stroke-width="3.6"/>
<path d="M731.6,1364.3 A124.25,38.4 0 0 0 980.1,1364.3" fill="none" stroke="#fff" stroke-width="3.6"/>
<path d="M731.6,1411.6 A124.25,38.4 0 0 0 980.1,1411.6" fill="none" stroke="#fff" stroke-width="3.6"/>
<path d="M731.6,1458.6 A124.25,38.4 0 0 0 980.1,1458.6" fill="none" stroke="#fff" stroke-width="3.6"/>
<path d="M731.6,1505.8 A124.25,38.4 0 0 0 980.1,1505.8" fill="none" stroke="#fff" stroke-width="3.6"/>
<path d="M731.6,1552.6 A124.25,38.4 0 0 0 980.1,1552.6" fill="none" stroke="#fff" stroke-width="3.6"/>
<path d="M731.6,1600.0 A124.25,38.4 0 0 0 980.1,1600.0" fill="none" stroke="#fff" stroke-width="3.6"/>
<polygon points="777.2,1246.8 786.9,1244.6 825.8,1254.5 838.7,1251.4 850.5,1264.1 805.5,1261.4 816.1,1257.2" fill="#fff"/>
<polygon points="865.6,1261.8 902.7,1250.3 892.1,1247.1 938.0,1242.9 924.8,1256.3 912.4,1253.1 873.5,1264.4" fill="#fff"/>
<polygon points="839.9,1266.6 848.8,1269.0 809.0,1280.7 820.5,1283.9 773.6,1288.1 787.3,1274.9 799.3,1278.1" fill="#fff"/>
<polygon points="858.1,1267.8 903.6,1271.2 892.1,1274.5 928.3,1283.9 919.5,1286.9 882.4,1277.2 870.0,1281.1" fill="#fff"/>
<g><text transform="matrix(1.4667 0 0 1.4971 1035.87 1528.80)" font-family='"Liberation Sans", sans-serif' font-size="100" font-weight="bold" font-style="normal" fill="#f48245" stroke="#f48245" stroke-width="2.70" stroke-linejoin="miter">2</text><text transform="matrix(1.4742 0 0 1.5070 1126.74 1529.49)" font-family='"Liberation Sans", sans-serif' font-size="100" font-weight="bold" font-style="normal" fill="#f48245" stroke="#f48245" stroke-width="2.68" stroke-linejoin="miter">6</text><text transform="matrix(0.8631 0 0 0.9262 1211.84 1533.37)" font-family='"Liberation Sans", sans-serif' font-size="100" font-weight="bold" font-style="normal" fill="#f48245">%</text></g>
<text transform="matrix(0.9977 0 0 1 1034.68 1595.90)" font-family='"Liberation Sans", sans-serif' font-size="34.6" font-weight="normal" font-style="normal" fill="#000">tenía balanceadores</text>
<text transform="matrix(1.0101 0 0 1 1033.80 1641.10)" font-family='"Liberation Sans", sans-serif' font-size="34.6" font-weight="normal" font-style="normal" fill="#000">de carga impactados</text>
<text transform="matrix(0.9930 0 0 1 1033.97 1686.60)" font-family='"Liberation Sans", sans-serif' font-size="34.6" font-weight="normal" font-style="normal" fill="#000">por ataques DDoS</text>
<circle cx="1693.7" cy="1463.4" r="189" fill="none" stroke="#ececec" stroke-width="76"/>
<path d="M1693.70,1236.40 A227,227 0 1 1 1481.49,1382.79 L1552.54,1409.78 A151,151 0 1 0 1693.70,1312.40 Z" fill="#8dc63f"/>
<g><text transform="matrix(1.8471 0 0 2.2333 1577.51 1527.57)" font-family='"Liberation Sans", sans-serif' font-size="100" font-weight="bold" font-style="normal" fill="#8dc63f">-</text><text transform="matrix(2.0629 0 0 2.1313 1646.01 1531.72)" font-family='"Liberation Sans", sans-serif' font-size="100" font-weight="bold" font-style="normal" fill="#8dc63f" stroke="#8dc63f" stroke-width="1.91" stroke-linejoin="miter">$</text></g>
<g><text transform="matrix(1.8667 0 0 1.9070 1975.90 1361.59)" font-family='"Liberation Sans", sans-serif' font-size="100" font-weight="bold" font-style="normal" fill="#8dc63f" stroke="#8dc63f" stroke-width="2.65" stroke-linejoin="miter">8</text><clipPath id="k7"><polygon points="-50,-130 150,-130 150,-12.73 38.39,-12.73 38.39,30 22.01,30 22.01,-12.73 -50,-12.73"/></clipPath><text clip-path="url(#k7)" transform="matrix(1.8597 0 0 1.8866 2083.98 1361.30)" font-family='"Liberation Sans", sans-serif' font-size="100" font-weight="bold" fill="#8dc63f" stroke="#8dc63f" stroke-width="2.67" stroke-linejoin="miter">1</text><text transform="matrix(1.0845 0 0 1.1844 2176.79 1367.32)" font-family='"Liberation Sans", sans-serif' font-size="100" font-weight="bold" font-style="normal" fill="#8dc63f">%</text></g>
<text transform="matrix(1.0024 0 0 1 1980.21 1436.10)" font-family='"Liberation Sans", sans-serif' font-size="34.6" font-weight="normal" font-style="normal" fill="#000">de los operadores de</text>
<text transform="matrix(1.0260 0 0 1 1980.18 1481.40)" font-family='"Liberation Sans", sans-serif' font-size="34.6" font-weight="normal" font-style="normal" fill="#000">centros de datos reportaron</text>
<text transform="matrix(1.0150 0 0 1 1980.20 1526.60)" font-family='"Liberation Sans", sans-serif' font-size="34.6" font-weight="normal" font-style="normal" fill="#000">gastos operativos por</text>
<text transform="matrix(0.9849 0 0 1 1979.64 1571.50)" font-family='"Liberation Sans", sans-serif' font-size="34.6" font-weight="normal" font-style="normal" fill="#000">ataques DDoS</text>
<path d="M2391.6,1420.1 H2639.7 V1477.2 Q2648,1472.5 2658.3,1469.9 L2633.4,1514.6 L2608.8,1469.9 Q2619,1472.5 2627.4,1477.2 V1432.9 H2391.6 Z" fill="#231f20"/>
<path d="M1998.6,1606.3 H2010.8 V1745.4 Q2019,1740.5 2029.3,1737.2 L2004.6,1782.8 L1980.2,1737.2 Q1990.5,1740.5 1998.6,1745.4 Z" fill="#231f20"/>
<g fill="#ececec"><circle cx="2592.9" cy="1549.6000000000001" r="18.4"/><path d="M2554.9,1589.2 a17.3,17.3 0 0 1 17.3,-17.3 h41.4 a17.3,17.3 0 0 1 17.3,17.3 v63.5 a5.5,5.5 0 0 1 -5.5,5.5 h-3.3 a5.5,5.5 0 0 1 -5.5,-5.5 v-52 a1.35,1.35 0 0 0 -2.7,0 v137 a5,5 0 0 1 -5,5 h-9.05 a5,5 0 0 1 -5,-5 v-79 a1.9,1.9 0 0 0 -3.8,0 v79 a5,5 0 0 1 -5,5 h-9.15 a5,5 0 0 1 -5,-5 v-137 a1.35,1.35 0 0 0 -2.7,0 v52 a5.5,5.5 0 0 1 -5.5,5.5 h-3.3 a5.5,5.5 0 0 1 -5.5,-5.5 Z"/><circle cx="2679.5" cy="1549.6000000000001" r="18.4"/><path d="M2641.5,1589.2 a17.3,17.3 0 0 1 17.3,-17.3 h41.4 a17.3,17.3 0 0 1 17.3,17.3 v63.5 a5.5,5.5 0 0 1 -5.5,5.5 h-3.3 a5.5,5.5 0 0 1 -5.5,-5.5 v-52 a1.35,1.35 0 0 0 -2.7,0 v137 a5,5 0 0 1 -5,5 h-9.05 a5,5 0 0 1 -5,-5 v-79 a1.9,1.9 0 0 0 -3.8,0 v79 a5,5 0 0 1 -5,5 h-9.15 a5,5 0 0 1 -5,-5 v-137 a1.35,1.35 0 0 0 -2.7,0 v52 a5.5,5.5 0 0 1 -5.5,5.5 h-3.3 a5.5,5.5 0 0 1 -5.5,-5.5 Z"/><circle cx="2766.1000000000004" cy="1549.6000000000001" r="18.4"/><path d="M2728.1000000000004,1589.2 a17.3,17.3 0 0 1 17.3,-17.3 h41.4 a17.3,17.3 0 0 1 17.3,17.3 v63.5 a5.5,5.5 0 0 1 -5.5,5.5 h-3.3 a5.5,5.5 0 0 1 -5.5,-5.5 v-52 a1.35,1.35 0 0 0 -2.7,0 v137 a5,5 0 0 1 -5,5 h-9.05 a5,5 0 0 1 -5,-5 v-79 a1.9,1.9 0 0 0 -3.8,0 v79 a5,5 0 0 1 -5,5 h-9.15 a5,5 0 0 1 -5,-5 v-137 a1.35,1.35 0 0 0 -2.7,0 v52 a5.5,5.5 0 0 1 -5.5,5.5 h-3.3 a5.5,5.5 0 0 1 -5.5,-5.5 Z"/></g>
<clipPath id="half"><rect x="2400" y="1500" width="200.1" height="300"/></clipPath>
<g fill="#8dc63f" clip-path="url(#half)"><circle cx="2506.3" cy="1549.6000000000001" r="18.4"/><path d="M2468.3,1589.2 a17.3,17.3 0 0 1 17.3,-17.3 h41.4 a17.3,17.3 0 0 1 17.3,17.3 v63.5 a5.5,5.5 0 0 1 -5.5,5.5 h-3.3 a5.5,5.5 0 0 1 -5.5,-5.5 v-52 a1.35,1.35 0 0 0 -2.7,0 v137 a5,5 0 0 1 -5,5 h-9.05 a5,5 0 0 1 -5,-5 v-79 a1.9,1.9 0 0 0 -3.8,0 v79 a5,5 0 0 1 -5,5 h-9.15 a5,5 0 0 1 -5,-5 v-137 a1.35,1.35 0 0 0 -2.7,0 v52 a5.5,5.5 0 0 1 -5.5,5.5 h-3.3 a5.5,5.5 0 0 1 -5.5,-5.5 Z"/><circle cx="2592.9" cy="1549.6000000000001" r="18.4"/><path d="M2554.9,1589.2 a17.3,17.3 0 0 1 17.3,-17.3 h41.4 a17.3,17.3 0 0 1 17.3,17.3 v63.5 a5.5,5.5 0 0 1 -5.5,5.5 h-3.3 a5.5,5.5 0 0 1 -5.5,-5.5 v-52 a1.35,1.35 0 0 0 -2.7,0 v137 a5,5 0 0 1 -5,5 h-9.05 a5,5 0 0 1 -5,-5 v-79 a1.9,1.9 0 0 0 -3.8,0 v79 a5,5 0 0 1 -5,5 h-9.15 a5,5 0 0 1 -5,-5 v-137 a1.35,1.35 0 0 0 -2.7,0 v52 a5.5,5.5 0 0 1 -5.5,5.5 h-3.3 a5.5,5.5 0 0 1 -5.5,-5.5 Z"/></g>
<g><text transform="matrix(1.1583 0 0 1.1843 1709.25 1865.30)" font-family='"Liberation Sans", sans-serif' font-size="100" font-weight="bold" font-style="normal" fill="#8dc63f" stroke="#8dc63f" stroke-width="2.56" stroke-linejoin="miter">2</text><text transform="matrix(1.1979 0 0 1.1696 1776.81 1865.30)" font-family='"Liberation Sans", sans-serif' font-size="100" font-weight="bold" font-style="normal" fill="#8dc63f" stroke="#8dc63f" stroke-width="2.53" stroke-linejoin="miter">7</text><text transform="matrix(0.6738 0 0 0.7461 1846.02 1868.95)" font-family='"Liberation Sans", sans-serif' font-size="100" font-weight="bold" font-style="normal" fill="#8dc63f">%</text></g>
<text transform="matrix(1.0417 0 0 1 1634.56 1924.60)" font-family='"Liberation Sans", sans-serif' font-size="34.6" font-weight="normal" font-style="normal" fill="#000">reportaron pérdida</text>
<text transform="matrix(1.0127 0 0 1 1634.50 1969.60)" font-family='"Liberation Sans", sans-serif' font-size="34.6" font-weight="normal" font-style="normal" fill="#000">de ingresos por</text>
<text transform="matrix(0.9849 0 0 1 1634.54 2014.50)" font-family='"Liberation Sans", sans-serif' font-size="34.6" font-weight="normal" font-style="normal" fill="#000">ataques DDoS</text>
<rect x="2048.8" y="1771.9" width="273.5" height="148.6" fill="#8dc63f"/>
<path d="M2092.7000000000003,1786.8000000000002 H2278.4 A22.5,27 0 0 0 2300.9,1813.8000000000002 V1878.6 A22.5,27 0 0 0 2278.4,1905.6 H2092.7000000000003 A22.5,27 0 0 0 2070.2000000000003,1878.6 V1813.8000000000002 A22.5,27 0 0 0 2092.7000000000003,1786.8000000000002 Z" fill="#fff"/>
<rect x="2001.9" y="1819.1" width="273.5" height="148.6" fill="#8dc63f"/>
<path d="M2045.8000000000002,1834.0 H2231.5 A22.5,27 0 0 0 2254.0,1861.0 V1925.7999999999997 A22.5,27 0 0 0 2231.5,1952.7999999999997 H2045.8000000000002 A22.5,27 0 0 0 2023.3000000000002,1925.7999999999997 V1861.0 A22.5,27 0 0 0 2045.8000000000002,1834.0 Z" fill="#fff"/>
<rect x="1954.7" y="1866" width="273.5" height="148.6" fill="#8dc63f"/>
<path d="M1998.6000000000001,1880.9 H2184.2999999999997 A22.5,27 0 0 0 2206.7999999999997,1907.9 V1972.6999999999998 A22.5,27 0 0 0 2184.2999999999997,1999.6999999999998 H1998.6000000000001 A22.5,27 0 0 0 1976.1000000000001,1972.6999999999998 V1907.9 A22.5,27 0 0 0 1998.6000000000001,1880.9 Z" fill="#fff"/>
<circle cx="2091.4" cy="1940" r="45" fill="#8dc63f"/><circle cx="2014.9" cy="1940" r="11.7" fill="#8dc63f"/><circle cx="2168.1" cy="1940" r="11.7" fill="#8dc63f"/>
<text transform="matrix(0.8286 0 0 0.8466 2068.06 1966.25)" font-family='"Liberation Sans", sans-serif' font-size="100" font-weight="bold" font-style="normal" fill="#fff" stroke="#fff" stroke-width="2.39" stroke-linejoin="miter">$</text>
<g><text transform="matrix(1.1677 0 0 1.1986 2476.68 1866.30)" font-family='"Liberation Sans", sans-serif' font-size="100" font-weight="bold" font-style="normal" fill="#8dc63f" stroke="#8dc63f" stroke-width="2.54" stroke-linejoin="miter">3</text><text transform="matrix(1.1600 0 0 1.1843 2545.62 1866.32)" font-family='"Liberation Sans", sans-serif' font-size="100" font-weight="bold" font-style="normal" fill="#8dc63f" stroke="#8dc63f" stroke-width="2.56" stroke-linejoin="miter">5</text><text transform="matrix(0.6762 0 0 0.7461 2613.81 1868.95)" font-family='"Liberation Sans", sans-serif' font-size="100" font-weight="bold" font-style="normal" fill="#8dc63f">%</text></g>
<text transform="matrix(1.0367 0 0 1 2477.47 1924.70)" font-family='"Liberation Sans", sans-serif' font-size="34.6" font-weight="normal" font-style="normal" fill="#000">reportaron molestia</text>
<text transform="matrix(1.0087 0 0 1 2477.90 1969.80)" font-family='"Liberation Sans", sans-serif' font-size="34.6" font-weight="normal" font-style="normal" fill="#000">de los clientes por</text>
<text transform="matrix(0.9846 0 0 1 2477.94 2014.50)" font-family='"Liberation Sans", sans-serif' font-size="34.6" font-weight="normal" font-style="normal" fill="#000">ataques de DDoS</text>
<text transform="matrix(0.8838 0 0 1 1244.39 2206.30)" font-family='"Liberation Sans", sans-serif' font-size="35.5" font-weight="normal" font-style="normal" fill="#000">FUENTE:</text>
<text transform="matrix(0.9928 0 0 1 1381.88 2206.30)" font-family='"Liberation Sans", sans-serif' font-size="35.5" font-weight="normal" font-style="normal" fill="#000">Datos del</text>
<text transform="matrix(0.9400 0 0 1 1539.83 2206.30)" font-family='"Liberation Sans", sans-serif' font-size="35.5" font-weight="normal" font-style="italic" fill="#000">9no Reporte anual de Seguridad en la Infraestructura a nivel mundial</text>
<text transform="matrix(0.9412 0 0 1 2570.53 2206.30)" font-family='"Liberation Sans", sans-serif' font-size="35.5" font-weight="normal" font-style="normal" fill="#000">y datos de ATLAS</text>
<g><text transform="matrix(1.6582 0 0 1.5742 54.24 2201.90)" font-family='"Liberation Serif", serif' font-size="100" font-weight="normal" font-style="normal" fill="#211c10">A</text><polygon transform="matrix(1.6582 0 0 1.5742 54.24 2201.90)" points="21.6,-27.6 44.8,-27.6 46.3,-22.4 20.1,-22.4" fill="#fff"/><text transform="matrix(1.8063 0 0 1.5344 167.63 2201.65)" font-family='"Liberation Serif", serif' font-size="100" font-weight="normal" font-style="normal" fill="#211c10" stroke="#211c10" stroke-width="0.30" stroke-linejoin="round">R</text><text transform="matrix(1.4559 0 0 1.5197 262.18 2200.69)" font-family='"Liberation Serif", serif' font-size="100" font-weight="normal" font-style="normal" fill="#211c10" stroke="#211c10" stroke-width="0.34" stroke-linejoin="round">B</text><text transform="matrix(1.7484 0 0 1.5881 350.26 2202.86)" font-family='"Liberation Serif", serif' font-size="100" font-weight="normal" font-style="normal" fill="#211c10" stroke="#211c10" stroke-width="0.30" stroke-linejoin="round">O</text><text transform="matrix(1.5465 0 0 1.5313 459.41 2201.45)" font-family='"Liberation Serif", serif' font-size="100" font-weight="normal" font-style="normal" fill="#211c10" stroke="#211c10" stroke-width="0.32" stroke-linejoin="round">R</text></g>
<path d="M66.4,2135.1 C85,2132 112,2140 127.9,2168 C108,2172 76,2160 66.4,2135.1 Z" fill="#6cbe45"/>
<g><text transform="matrix(0.2136 0 0 0.3030 188.11 2240.50)" font-family='"Liberation Sans", sans-serif' font-size="100" font-weight="bold" font-style="normal" fill="#6cbe45">N</text><text transform="matrix(0.2265 0 0 0.3030 241.13 2240.50)" font-family='"Liberation Sans", sans-serif' font-size="100" font-weight="bold" font-style="normal" fill="#6cbe45">E</text><text transform="matrix(0.2390 0 0 0.3030 287.16 2240.50)" font-family='"Liberation Sans", sans-serif' font-size="100" font-weight="bold" font-style="normal" fill="#6cbe45">T</text><text transform="matrix(0.2857 0 0 0.3030 329.70 2240.50)" font-family='"Liberation Sans", sans-serif' font-size="100" font-weight="bold" font-style="normal" fill="#6cbe45">W</text><text transform="matrix(0.2576 0 0 0.3030 391.57 2240.50)" font-family='"Liberation Sans", sans-serif' font-size="100" font-weight="bold" font-style="normal" fill="#6cbe45">O</text><text transform="matrix(0.2016 0 0 0.3030 446.39 2240.50)" font-family='"Liberation Sans", sans-serif' font-size="100" font-weight="bold" font-style="normal" fill="#6cbe45">R</text><text transform="matrix(0.2202 0 0 0.3030 493.57 2240.50)" font-family='"Liberation Sans", sans-serif' font-size="100" font-weight="bold" font-style="normal" fill="#6cbe45">K</text><text transform="matrix(0.2217 0 0 0.3030 538.04 2240.50)" font-family='"Liberation Sans", sans-serif' font-size="100" font-weight="bold" font-style="normal" fill="#6cbe45">S</text></g>
<text transform="matrix(1.1029 0 0 1 542.53 2117.00)" font-family='"Liberation Serif", serif' font-size="22" font-weight="normal" font-style="normal" fill="#211c10">®</text>
</svg>
</body></html>
